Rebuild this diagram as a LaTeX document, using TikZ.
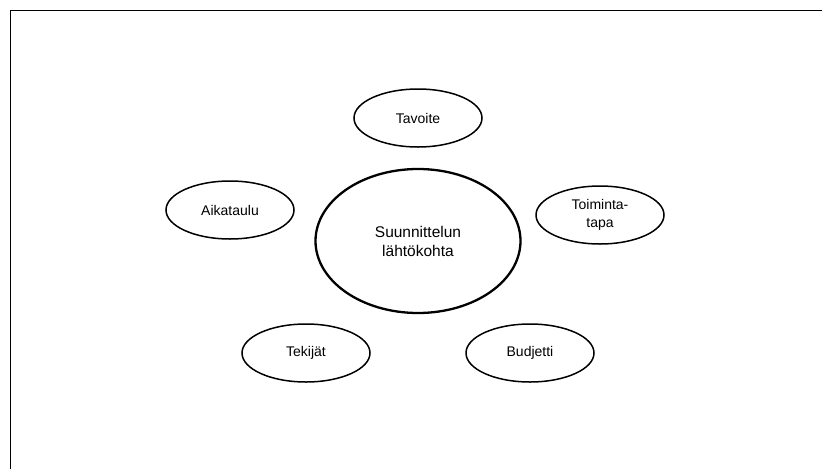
\documentclass[tikz,border=0pt]{standalone}
\usepackage{fontspec}
\setmainfont{Liberation Sans}
\usetikzlibrary{shapes.geometric}

\begin{document}
\begin{tikzpicture}[x=1pt,y=-1pt]
      \tikzstyle{every node}+=[inner sep=0pt]
      \tikzstyle{topic}=[draw=black, line width=1.5pt, ellipse, minimum width=128pt, minimum height=58pt, font=\fontsize{14}{18}\selectfont, align=center]
      \tikzstyle{core}=[draw=black, line width=2.3pt, ellipse, minimum width=205pt, minimum height=144pt, font=\fontsize{15.5}{19}\selectfont, align=center]
      \useasboundingbox (0,0) rectangle (822,469);
      \draw [black, line width=1.5pt] (10.5,469) -- (10.5,10.5) -- (822,10.5);
      \node [core] (start) at (418,241) {Suunnittelun\\lähtökohta};
      \node [topic] (goal) at (418,118) {Tavoite};
      \node [topic] (method) at (600,215) {Toiminta-\\tapa};
      \node [topic] (sched) at (230,210) {Aikataulu};
      \node [topic] (doers) at (306,353) {Tekijät};
      \node [topic] (budget) at (530,353) {Budjetti};
\end{tikzpicture}
\end{document}
